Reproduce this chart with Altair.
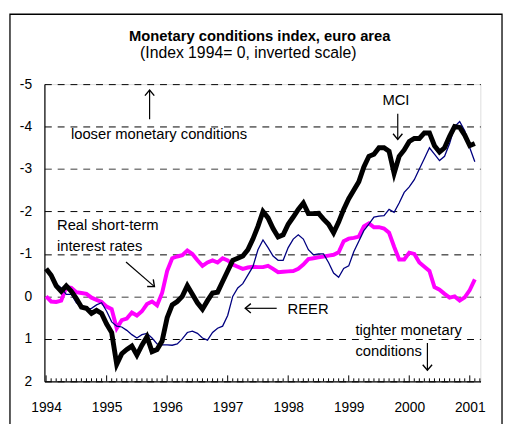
import altair as alt
import pandas as pd

# Monthly observations, Jan 1994 .. Feb 2001 (index 1994 = 0, inverted scale)
months = list(range(86))
mci = [-0.65, -0.5, -0.25, -0.12, -0.25, -0.12, 0.05, 0.25, 0.28, 0.4, 0.33, 0.4,
       0.65, 0.85, 1.6, 1.35, 1.25, 1.17, 1.38, 1.15, 0.95, 1.3, 1.25, 1.05,
       0.5, 0.2, 0.12, 0.0, -0.25, -0.05, 0.15, 0.3, 0.1, -0.08, -0.1, -0.35,
       -0.6, -0.85, -0.9, -0.95, -1.1, -1.35, -1.65, -2.0, -1.85, -1.6, -1.4, -1.45,
       -1.7, -1.87, -2.05, -2.2, -1.95, -1.95, -1.96, -1.82, -1.7, -1.5, -1.75, -2.05,
       -2.3, -2.5, -2.7, -3.05, -3.3, -3.35, -3.5, -3.5, -3.42, -2.9, -3.3, -3.45,
       -3.65, -3.72, -3.72, -3.85, -3.85, -3.55, -3.4, -3.5, -3.77, -4.0, -3.98, -3.8,
       -3.55, -3.6]
reer = [-0.64, -0.5, -0.3, -0.2, -0.05, -0.05, 0.15, 0.25, 0.3, 0.28, 0.2, 0.15,
        0.35, 0.6, 0.7, 0.72, 0.8, 0.9, 0.98, 0.9, 0.87, 0.98, 1.12, 1.14,
        1.14, 1.15, 1.12, 1.0, 0.85, 0.82, 0.87, 0.98, 1.03, 0.85, 0.75, 0.7,
        0.45, 0.0, -0.2, -0.3, -0.5, -0.7, -1.1, -1.33, -1.15, -0.95, -0.85, -0.85,
        -1.15, -1.35, -1.45, -1.35, -1.1, -0.98, -1.0, -1.0, -0.8, -0.55, -0.45, -0.66,
        -0.72, -1.05, -1.3, -1.55, -1.7, -1.87, -1.89, -1.9, -2.05, -1.98, -2.2, -2.45,
        -2.58, -2.75, -3.0, -3.25, -3.5, -3.35, -3.2, -3.3, -3.6, -4.0, -4.12, -3.9,
        -3.5, -3.17]
rates = [0.0, 0.12, 0.13, 0.1, -0.22, -0.2, -0.1, -0.08, -0.06, 0.03, 0.08, 0.13,
         0.24, 0.3, 0.75, 0.56, 0.52, 0.38, 0.45, 0.35, 0.18, 0.12, 0.21, -0.08,
         -0.6, -0.9, -0.94, -0.97, -1.08, -1.0, -0.85, -0.72, -0.8, -0.85, -0.8, -0.9,
         -0.85, -0.75, -0.7, -0.65, -0.68, -0.7, -0.69, -0.69, -0.72, -0.65, -0.57, -0.58,
         -0.59, -0.6, -0.65, -0.75, -0.88, -0.9, -0.92, -0.94, -0.96, -0.98, -1.04, -1.3,
         -1.36, -1.38, -1.41, -1.65, -1.72, -1.63, -1.63, -1.6, -1.5, -1.17, -0.87, -0.87,
         -1.03, -1.0, -0.8, -0.7, -0.6, -0.22, -0.16, -0.06, 0.03, 0.0, 0.1, 0.02,
         -0.15, -0.4]

year_ticks = [1994, 1995, 1996, 1997, 1998, 1999, 2000, 2001]
y_ticks = [-5, -4, -3, -2, -1, 0, 1, 2]

title_text = "Monetary conditions index, euro area"
subtitle_text = "(Index 1994= 0, inverted scale)"

FONT = "Liberation Sans"

t = [1994 + m / 12 for m in months]
df = pd.DataFrame({"t": t, "mci": mci, "reer": reer, "rates": rates})

xs = alt.Scale(domain=[1993.972, 2001.175], nice=False, zero=False)
ys = alt.Scale(domain=[-5, 2], reverse=True, nice=False, zero=False)

x_axis = alt.Axis(values=year_ticks, format="d", grid=False, ticks=False,
                  labelFontSize=14, labelFont=FONT, labelColor="black",
                  labelPadding=20, domainColor="black", domainWidth=1.2,
                  title=None, labelFlush=False)
y_axis = alt.Axis(values=y_ticks, labelExpr="'' + datum.value", ticks=False,
                  labelFontSize=14, labelFont=FONT, labelColor="black",
                  labelPadding=13, domainColor="black", domainWidth=1.2,
                  grid=True, gridDash=[7, 6],
                  gridColor={"condition": {"test": "datum.value === 0 || datum.value === -3",
                                           "value": "#7f7f7f"}, "value": "black"},
                  gridWidth={"condition": {"test": "datum.value === 0 || datum.value === -3",
                                           "value": 1.6}, "value": 1},
                  title=None)

base = alt.Chart(df)
grid_layer = base.mark_line(opacity=0).encode(
    x=alt.X("t:Q", scale=xs, axis=x_axis),
    y=alt.Y("mci:Q", scale=ys, axis=y_axis))

rates_line = base.mark_line(color="#FF00FF", strokeWidth=4).encode(
    x=alt.X("t:Q", scale=xs), y=alt.Y("rates:Q", scale=ys))
reer_line = base.mark_line(color="#000080", strokeWidth=1.3).encode(
    x=alt.X("t:Q", scale=xs), y=alt.Y("reer:Q", scale=ys))
mci_line = base.mark_line(color="black", strokeWidth=5).encode(
    x=alt.X("t:Q", scale=xs), y=alt.Y("mci:Q", scale=ys))

# month tick marks on the time axis (drawn upward)
tick_df = pd.DataFrame({"t": [1994 + m / 12 for m in range(0, 87)],
                        "major": [m % 12 == 0 for m in range(0, 87)]})
tick_df["y0"] = 2.0
tick_df["y1"] = [1.86 if mj else 1.93 for mj in tick_df["major"]]
ticks = alt.Chart(tick_df).mark_rule(color="black", strokeWidth=1).encode(
    x=alt.X("t:Q", scale=xs), y=alt.Y("y0:Q", scale=ys), y2="y1:Q")

# title (as text marks above the plot)
title_df = pd.DataFrame({"x": [1997.53], "y": [-6.14], "text": [title_text]})
sub_df = pd.DataFrame({"x": [1997.34], "y": [-5.72], "text": [subtitle_text]})
title_mark = alt.Chart(title_df).mark_text(
    align="center", baseline="middle", fontSize=15, font=FONT, fontWeight="bold",
    color="black").encode(
    x=alt.X("x:Q", scale=xs), y=alt.Y("y:Q", scale=ys), text="text:N")
sub_mark = alt.Chart(sub_df).mark_text(
    align="center", baseline="middle", fontSize=16, font=FONT, color="black").encode(
    x=alt.X("x:Q", scale=xs), y=alt.Y("y:Q", scale=ys), text="text:N")

# annotations
labels_left = pd.DataFrame({
    "x": [1994.41, 1994.18, 1994.18, 1997.99, 1999.11, 1999.11],
    "y": [-3.82, -1.69, -1.18, 0.31, 0.79, 1.28],
    "text": ["looser monetary conditions", "Real short-term", "interest rates",
             "REER", "tighter monetary", "conditions"],
})
txt_left = alt.Chart(labels_left).mark_text(
    align="left", baseline="middle", fontSize=15, font=FONT, color="black").encode(
    x=alt.X("x:Q", scale=xs), y=alt.Y("y:Q", scale=ys), text="text:N")
labels_mid = pd.DataFrame({"x": [1999.78], "y": [-4.63], "text": ["MCI"]})
txt_mid = alt.Chart(labels_mid).mark_text(
    align="center", baseline="middle", fontSize=15, font=FONT, color="black").encode(
    x=alt.X("x:Q", scale=xs), y=alt.Y("y:Q", scale=ys), text="text:N")

arrows = pd.DataFrame({
    "x": [1995.71, 1999.81, 1995.32, 1997.81, 2000.30],
    "y": [-4.17, -4.30, -0.81, 0.28, 1.10],
    "x2": [1995.71, 1999.81, 1995.79, 1997.29, 2000.30],
    "y2": [-4.86, -3.70, -0.23, 0.28, 1.74],
    "angle": [0, 180, 131, 270, 180],
})
shafts = alt.Chart(arrows).mark_rule(color="black", strokeWidth=1.2).encode(
    x=alt.X("x:Q", scale=xs), y=alt.Y("y:Q", scale=ys), x2="x2:Q", y2="y2:Q")
heads = alt.Chart(arrows).mark_point(
    shape="M-1,1.2 L0,0 L1,1.2", filled=False, color="black", strokeWidth=1.4,
    size=90, opacity=1).encode(
    x=alt.X("x2:Q", scale=xs), y=alt.Y("y2:Q", scale=ys),
    angle=alt.Angle("angle:Q", scale=None))

frame = alt.Chart(pd.DataFrame({"a": [0]})).mark_rect(
    filled=False, stroke="black", strokeWidth=1.3, fill=None).encode(
    x=alt.value(-35), x2=alt.value(465), y=alt.value(-71), y2=alt.value(380))

chart = alt.layer(
    frame, grid_layer, ticks, rates_line, reer_line, mci_line,
    title_mark, sub_mark, txt_left, txt_mid, shafts, heads
).properties(
    width=443, height=302,
    autosize=alt.AutoSizeParams(type="none"),
    padding={"left": 37, "top": 74, "right": 23, "bottom": 40},
).configure_view(stroke=None).configure(background="white")

chart.save("out.html", embed_options={"renderer": "svg", "actions": False})
